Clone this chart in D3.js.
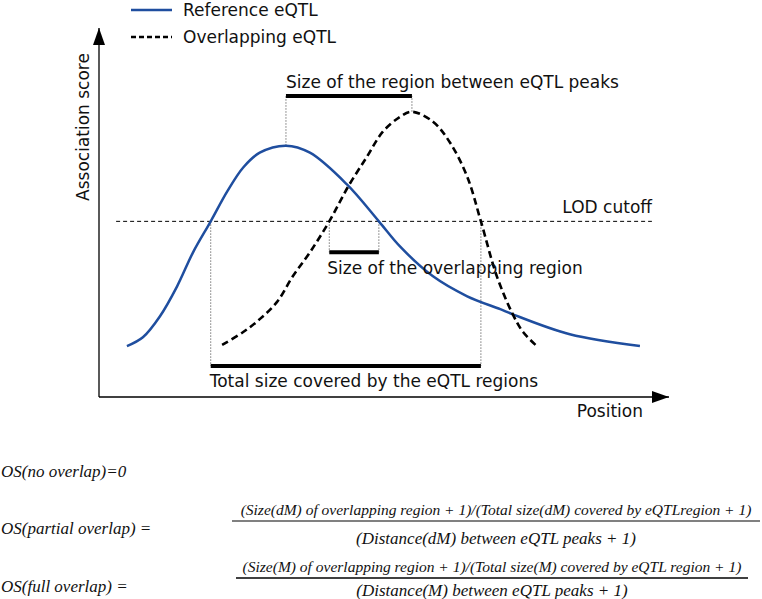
<!DOCTYPE html>
<html><head><meta charset="utf-8">
<script src="https://cdn.jsdelivr.net/npm/d3@7"></script>
<style>body{margin:0;background:#fff} svg{display:block}</style>
</head><body>
<svg id="chart" width="762" height="599"></svg>
<script>
// ---------- data (position units 0-100, association score units 0-100) ----------
const referenceX = [4.9, 7.7, 10.7, 13.7, 16.5, 19.6, 22.5, 25.3, 28.2, 32.8, 37.0, 43.5, 49.1, 52.8, 58.6, 64.6, 70.4, 72.6, 82.6, 94.9];
const referenceY = [13.8, 16.2, 21.9, 30.0, 39.2, 47.6, 55.7, 62.2, 66.2, 68.1, 66.2, 57.6, 47.6, 40.8, 32.7, 27.3, 23.8, 22.4, 17.0, 13.8];
const overlapX = [21.6, 25.3, 28.2, 31.2, 34.0, 37.0, 40.4, 43.7, 47.0, 49.8, 52.8, 54.9, 58.6, 61.6, 64.6, 67.0, 69.8, 72.6, 74.4, 76.8];
const overlapY = [14.1, 17.6, 21.1, 25.7, 32.7, 39.2, 47.6, 57.0, 65.1, 71.9, 75.9, 77.3, 74.6, 68.9, 59.7, 47.6, 32.7, 22.4, 17.6, 13.8];
const lodCutoff = 47.6;
const lodExtent = [3.0, 97.0];
const peakRegion = [32.8, 54.9];      // blue peak -> black peak
const overlapRegion = [40.4, 49.1];   // overlapping part above LOD
const totalRegion = [19.6, 67.0];     // total span above LOD
const seriesNames = ["Reference eQTL", "Overlapping eQTL"];
const axisLabels = ["Association score", "Position"];
const regionLabels = ["Size of the region between eQTL peaks", "Size of the overlapping region", "Total size covered by the eQTL regions", "LOD cutoff"];
const formulaLabels = ["OS(no overlap)=0", "OS(partial overlap) =", "OS(full overlap) ="];
const numerators = ["(Size(dM) of overlapping region + 1)/(Total size(dM) covered by eQTLregion + 1)",
                    "(Size(M) of overlapping region + 1)/(Total size(M) covered by eQTL region + 1)"];
const denominators = ["(Distance(dM) between eQTL peaks + 1)", "(Distance(M) between eQTL peaks + 1)"];

// ---------- drawing ----------
const svg = d3.select("#chart");
const x = d3.scaleLinear().domain([0, 100]).range([99, 669]);
const y = d3.scaleLinear().domain([0, 100]).range([397, 28]);
const blue = "#1f4e9f";
const sans = "'DejaVu Sans', Verdana, sans-serif";
const serif = "'Liberation Serif', 'DejaVu Serif', serif";

// arrow markers
const defs = svg.append("defs");
defs.append("marker").attr("id", "arrow").attr("viewBox", "0 0 17 12")
  .attr("refX", 17).attr("refY", 6).attr("markerWidth", 17).attr("markerHeight", 12)
  .attr("markerUnits", "userSpaceOnUse").attr("orient", "auto")
  .append("path").attr("d", "M0,0 L17,6 L0,12 Z").attr("fill", "#000");

// axes
svg.append("line").attr("x1", x(0)).attr("y1", y(0)).attr("x2", x(0)).attr("y2", y(100))
  .attr("stroke", "#000").attr("stroke-width", 1.3).attr("marker-end", "url(#arrow)");
svg.append("line").attr("x1", x(0)).attr("y1", y(0)).attr("x2", x(100)).attr("y2", y(0))
  .attr("stroke", "#000").attr("stroke-width", 1.3).attr("marker-end", "url(#arrow)");

// LOD cutoff
svg.append("line").attr("x1", x(lodExtent[0])).attr("x2", x(lodExtent[1]))
  .attr("y1", y(lodCutoff)).attr("y2", y(lodCutoff))
  .attr("stroke", "#000").attr("stroke-width", 1).attr("stroke-dasharray", "4,3");

// dotted guides
const guides = [
  [peakRegion[0], 68.1, 81.6], [peakRegion[1], 77.3, 81.6],
  [overlapRegion[0], lodCutoff, 39.2], [overlapRegion[1], lodCutoff, 39.2],
  [totalRegion[0], lodCutoff, 8.4], [totalRegion[1], lodCutoff, 8.4]
];
svg.selectAll(".guide").data(guides).join("line").attr("class", "guide")
  .attr("x1", d => x(d[0])).attr("x2", d => x(d[0]))
  .attr("y1", d => y(d[1])).attr("y2", d => y(d[2]))
  .attr("stroke", "#777").attr("stroke-width", 1).attr("stroke-dasharray", "1.5,1.5");

// thick region bars
const bars = [[peakRegion, 81.6], [overlapRegion, 39.2], [totalRegion, 8.4]];
svg.selectAll(".bar").data(bars).join("line").attr("class", "bar")
  .attr("x1", d => x(d[0][0])).attr("x2", d => x(d[0][1]))
  .attr("y1", d => y(d[1])).attr("y2", d => y(d[1]))
  .attr("stroke", "#000").attr("stroke-width", 4);

// curves
const line = d3.line().x(d => x(d[0])).y(d => y(d[1])).curve(d3.curveCatmullRom.alpha(0.5));
svg.append("path").datum(referenceX.map((v, i) => [v, referenceY[i]]))
  .attr("d", line).attr("fill", "none").attr("stroke", blue).attr("stroke-width", 2.5);
svg.append("path").datum(overlapX.map((v, i) => [v, overlapY[i]]))
  .attr("d", line).attr("fill", "none").attr("stroke", "#000").attr("stroke-width", 2.6)
  .attr("stroke-dasharray", "7,4");

// legend
const legend = svg.append("g");
seriesNames.forEach((n, i) => {
  const ly = 10 + i * 27;
  legend.append("line").attr("x1", 131).attr("x2", 172).attr("y1", ly).attr("y2", ly)
    .attr("stroke", i === 0 ? blue : "#000").attr("stroke-width", 2.5)
    .attr("stroke-dasharray", i === 0 ? null : "5,3");
  legend.append("text").attr("x", 183).attr("y", ly + 6).text(n)
    .attr("font-family", sans).attr("font-size", 17).attr("fill", "#111");
});

// axis labels
svg.append("text").attr("transform", `translate(89,${127}) rotate(-90)`)
  .attr("text-anchor", "middle").text(axisLabels[0])
  .attr("font-family", sans).attr("font-size", 17).attr("fill", "#111");
svg.append("text").attr("x", 643).attr("y", 417).attr("text-anchor", "end").text(axisLabels[1])
  .attr("font-family", sans).attr("font-size", 17).attr("fill", "#111");

// region labels
const rl = [
  {t: regionLabels[0], x: x(peakRegion[0]), y: 88, a: "start"},
  {t: regionLabels[1], x: x(overlapRegion[0]) - 2, y: 274, a: "start"},
  {t: regionLabels[2], x: x(totalRegion[0]) - 1, y: 387, a: "start"},
  {t: regionLabels[3], x: 652, y: 213, a: "end"}
];
svg.selectAll(".rl").data(rl).join("text").attr("class", "rl")
  .attr("x", d => d.x).attr("y", d => d.y).attr("text-anchor", d => d.a).text(d => d.t)
  .attr("font-family", sans).attr("font-size", 17).attr("fill", "#111");

// formulas
const f = svg.append("g").attr("font-family", serif).attr("font-style", "italic")
  .attr("font-size", 17).attr("fill", "#111");
f.append("text").attr("x", 1).attr("y", 477).text(formulaLabels[0]);
f.append("text").attr("x", 1).attr("y", 534).text(formulaLabels[1]);
f.append("text").attr("x", 1).attr("y", 592).text(formulaLabels[2]);
const fracs = [
  {n: numerators[0], d: denominators[0], x0: 232, x1: 760, by: 521, col: "#808080", w: 2, db: 544},
  {n: numerators[1], d: denominators[1], x0: 236, x1: 748, by: 578, col: "#000", w: 1.5, db: 596}
];
fracs.forEach(fr => {
  const cx = (fr.x0 + fr.x1) / 2;
  f.append("text").attr("x", cx).attr("y", fr.by - 6).attr("text-anchor", "middle").text(fr.n)
    .attr("font-size", 15.5);
  f.append("line").attr("x1", fr.x0).attr("x2", fr.x1).attr("y1", fr.by).attr("y2", fr.by)
    .attr("stroke", fr.col).attr("stroke-width", fr.w);
  f.append("text").attr("x", cx).attr("y", fr.db).attr("text-anchor", "middle").text(fr.d);
});
</script>
</body></html>
